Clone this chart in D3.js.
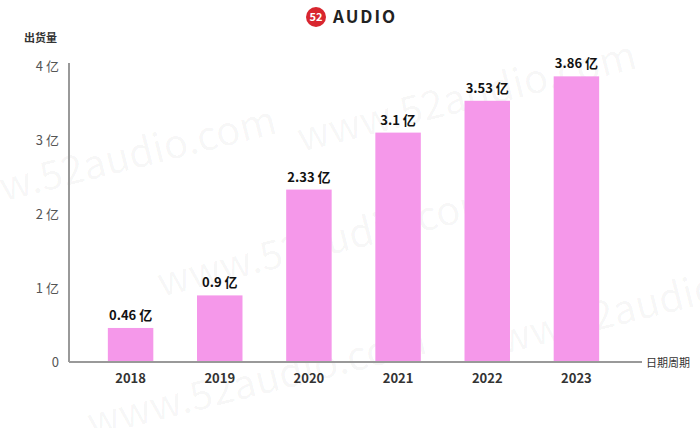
<!DOCTYPE html>
<html><head><meta charset="utf-8">
<script src="https://cdn.jsdelivr.net/npm/d3@7"></script>
<style>body{margin:0;background:#fff}text{font-family:"Noto Sans CJK SC","Noto Sans",sans-serif}</style>
</head><body><svg></svg>
<script>
const years = ['2018', '2019', '2020', '2021', '2022', '2023'];
const shipments = [0.46, 0.9, 2.33, 3.1, 3.53, 3.86];
const labels = ['0.46 亿', '0.9 亿', '2.33 亿', '3.1 亿', '3.53 亿', '3.86 亿'];
const tickValues = [0, 1, 2, 3, 4];
const tickLabels = ['0', '1 亿', '2 亿', '3 亿', '4 亿'];

var svg = d3.select('svg').attr('width', 700).attr('height', 428);

// watermarks
var marks = [[110, 175], [470, 110], [330, 255], [640, 320], [260, 395]];
marks.forEach(function (m) {
	svg.append('text')
		.attr('transform', 'translate(' + m[0] + ',' + m[1] + ') rotate(-14)')
		.attr('text-anchor', 'middle')
		.attr('font-size', 40)
		.attr('fill', '#000').attr('fill-opacity', 0.04)
		.text('www.52audio.com');
});

var xScale = d3.scaleBand().domain(years).range([86, 621]).paddingInner(0.49).paddingOuter(0.245);
var yScale = d3.scaleLinear().domain([0, 4]).range([362, 66]);

svg.selectAll('rect.bar').data(shipments).enter().append('rect')
	.attr('class', 'bar')
	.attr('x', (d, i) => xScale(years[i]))
	.attr('width', xScale.bandwidth())
	.attr('y', d => yScale(d))
	.attr('height', d => yScale(0) - yScale(d))
	.attr('fill', '#f598ea');

svg.selectAll('text.val').data(shipments).enter().append('text')
	.attr('x', (d, i) => xScale(years[i]) + xScale.bandwidth() / 2)
	.attr('y', d => yScale(d) - 8)
	.attr('text-anchor', 'middle')
	.attr('font-size', 13).attr('font-weight', 'bold').attr('fill', '#111')
	.text((d, i) => labels[i]);

var yAxis = d3.axisLeft(yScale).tickValues(tickValues)
	.tickFormat((d, i) => tickLabels[i]).tickSize(0).tickPadding(10);
var gy = svg.append('g').attr('transform', 'translate(69,0)').call(yAxis);
gy.select('.domain').attr('stroke', '#999').attr('stroke-width', 2)
	.attr('d', 'M0,' + (yScale(4) - 3) + 'V' + yScale(0));
gy.selectAll('text').attr('font-size', 13).attr('fill', '#555');

var xAxis = d3.axisBottom(xScale).tickSize(0).tickPadding(12);
var gx = svg.append('g').attr('transform', 'translate(0,362)').call(xAxis);
gx.select('.domain').attr('stroke', '#999').attr('stroke-width', 2).attr('d', 'M69,0H642');
gx.selectAll('text').attr('font-size', 13).attr('font-weight', 'bold').attr('fill', '#333');

svg.append('text').attr('x', 646).attr('y', 367).attr('font-size', 11).attr('fill', '#333').text('日期周期');
svg.append('text').attr('x', 24).attr('y', 42).attr('font-size', 11).attr('font-weight', 'bold').attr('fill', '#333').text('出货量');

// logo
var logo = svg.append('g').attr('transform', 'translate(316,17)');
logo.append('circle').attr('r', 10).attr('fill', '#d8262f');
logo.append('text').attr('y', 4).attr('text-anchor', 'middle').attr('font-size', 11)
	.attr('font-weight', 'bold').attr('fill', '#fff').text('52');
svg.append('text').attr('x', 333).attr('y', 23).attr('font-size', 17).attr('font-weight', 'bold')
	.attr('letter-spacing', 2).attr('fill', '#222').attr('font-family', 'DejaVu Sans').text('AUDIO');
</script></body></html>
